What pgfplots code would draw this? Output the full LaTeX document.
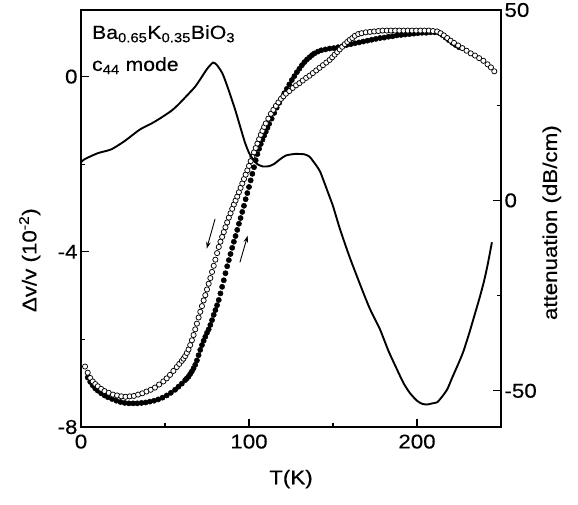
\documentclass[border=0pt]{standalone}
\usepackage{fontspec}
\setmainfont{Liberation Sans}[FakeStretch=1.12, FakeBold=0.4]
\usepackage{pgfplots}
\pgfplotsset{compat=1.18}
\usetikzlibrary{arrows.meta}

\begin{document}
\begin{tikzpicture}
\pgfplotsset{
  every axis/.append style={
    scale only axis, width=420bp, height=417bp,
    at={(0,0)}, anchor=south west,
    xmin=0, xmax=250,
    axis line style={line width=1.6pt},
    tick style={line width=1.3pt, black},
    major tick length=8bp, minor tick length=4.5bp,
    tick align=inside,
    /pgf/number format/assume math mode=true,
    tick label style={font=\fontsize{20}{24}\selectfont},
    label style={font=\fontsize{20}{24}\selectfont},
  },
}
% velocity (left axis)
\begin{axis}[
  name=ax,
  ymin=-8, ymax=1.52,
  xtick={0,100,200}, minor xtick={50,150},
  ytick={-8,-4,0}, minor ytick={-6,-2},
  xtick pos=bottom, ytick pos=left,
  xticklabel style={yshift=-4bp},
  xlabel={T(K)},
  ylabel={Δv/v (10\textsuperscript{-2})},
  xlabel style={at={(axis description cs:0.5,-0.125)}, anchor=center},
  ylabel style={at={(axis description cs:-0.122,0.40)}, anchor=center},
]
% warming, filled
\addplot[only marks, mark=*, mark size=2.6bp, mark options={fill=black, draw=black, line width=0.5pt}] coordinates {
  (4,-6.87) (5.5,-6.97) (7,-7.05) (8.5,-7.12) (10,-7.17) (12,-7.23) (14,-7.28)
  (16,-7.32) (18.5,-7.36) (21,-7.40) (23.5,-7.43) (26,-7.45) (28.5,-7.46)
  (31,-7.46) (33.5,-7.46) (36,-7.45) (38.5,-7.44) (41,-7.42) (43.5,-7.40)
  (46,-7.37) (48.5,-7.33) (51,-7.28) (53.5,-7.22) (56,-7.15) (58,-7.08)
  (60,-7.01) (62,-6.93) (63,-6.89) (64,-6.85) (65,-6.79) (66,-6.73) (67,-6.66)
  (68,-6.58) (69,-6.48) (70,-6.36) (71,-6.24) (72,-6.13) (73,-6.03) (74,-5.94)
  (75,-5.85) (76,-5.77) (77,-5.67) (78,-5.56) (79,-5.44) (80,-5.33) (81,-5.22)
  (82,-5.10) (83,-4.95) (84,-4.80) (85,-4.65) (86,-4.49) (87,-4.33) (88,-4.19)
  (89,-4.05) (90,-3.91) (91,-3.77) (92,-3.64) (93,-3.50) (94,-3.36) (95,-3.23)
  (96,-3.09) (97,-2.95) (98,-2.80) (99,-2.66) (100,-2.52) (101,-2.37)
  (102,-2.22) (103,-2.07) (104,-1.91) (105,-1.77) (106,-1.65) (107,-1.54)
  (108,-1.44) (109,-1.35) (110,-1.26) (111,-1.17) (112,-1.08) (113.5,-0.96)
  (115,-0.83) (116.5,-0.71) (118,-0.60) (119.5,-0.49) (121,-0.38) (122.5,-0.28)
  (124,-0.18) (125.5,-0.08) (127,0.01) (128.5,0.10) (130,0.18) (131.5,0.26)
  (133,0.33) (134.5,0.39) (136,0.44) (137.5,0.49) (139,0.53) (141,0.57)
  (143,0.60) (145.5,0.62) (148,0.64) (150.5,0.65) (153,0.67) (155.5,0.69)
  (158,0.72) (160.5,0.74) (163,0.76) (165.5,0.78) (168,0.80) (170.5,0.82)
  (173,0.84) (175.5,0.86) (178,0.88) (180.5,0.89) (183,0.91) (185.5,0.92)
  (188,0.94) (190.5,0.95) (193,0.96) (195.5,0.97) (198,0.98) (200.5,0.99)
  (203,1.00) (205.5,1.00) (208,1.01) (210.5,1.01) (213,1.00) (215,0.95)
  (217,0.89) (219,0.83) (221,0.77) (223,0.72) (225,0.67)
};
% cooling, open
\addplot[only marks, mark=*, mark size=2.6bp, mark options={fill=white, draw=black, line width=0.75pt}] coordinates {
  (2.4,-6.62) (4,-6.76) (5.5,-6.88) (7,-6.96) (8.5,-7.02) (10,-7.07) (12,-7.13)
  (14,-7.18) (16.5,-7.22) (19,-7.26) (21.5,-7.28) (24,-7.30) (26.5,-7.31)
  (29,-7.30) (31.5,-7.29) (34,-7.26) (36.5,-7.23) (39,-7.19) (41.5,-7.15)
  (44,-7.10) (46.5,-7.03) (49,-6.96) (51,-6.89) (53,-6.81) (55,-6.72)
  (57,-6.63) (58.5,-6.56) (60,-6.49) (61,-6.44) (62,-6.38) (63,-6.31)
  (64,-6.23) (65,-6.13) (66,-6.02) (67,-5.90) (68,-5.77) (69,-5.64) (70,-5.50)
  (71,-5.37) (72,-5.24) (73,-5.11) (74,-4.99) (75,-4.86) (76,-4.73) (77,-4.60)
  (78,-4.46) (79,-4.32) (80,-4.18) (81,-4.03) (82,-3.89) (83,-3.77) (84,-3.66)
  (85,-3.55) (86,-3.44) (87,-3.33) (88,-3.22) (89,-3.12) (90,-3.02) (91,-2.92)
  (92,-2.83) (93,-2.74) (94,-2.64) (95,-2.54) (96,-2.44) (97,-2.34) (98,-2.24)
  (99,-2.14) (100,-2.04) (101,-1.93) (102,-1.83) (103,-1.73) (104,-1.63)
  (105,-1.53) (106,-1.43) (107,-1.33) (108,-1.24) (109,-1.15) (110,-1.07)
  (111.5,-0.96) (113,-0.85) (114.5,-0.76) (116,-0.67) (117.5,-0.59)
  (119,-0.51) (120.5,-0.45) (122,-0.39) (124,-0.33) (126,-0.26) (128,-0.20)
  (130,-0.15) (132,-0.09) (134,-0.03) (136,0.02) (138,0.08) (140,0.14)
  (142,0.20) (144,0.26) (146,0.32) (148,0.38) (149.5,0.44) (151,0.50)
  (152.5,0.56) (154,0.62) (155.5,0.68) (157,0.74) (158.5,0.79) (160,0.84)
  (161.5,0.88) (163,0.93) (165,0.97) (167,0.99) (169.5,1.01) (172,1.02)
  (174.5,1.03) (177,1.04) (179.5,1.05) (182,1.05) (184.5,1.05) (187,1.05)
  (189.5,1.05) (192,1.05) (194.5,1.05) (197,1.05) (199.5,1.05) (202,1.05)
  (204.5,1.05) (207,1.05) (209.5,1.04) (212,1.03) (214,0.99) (216,0.94)
  (218,0.88) (220,0.82) (222,0.77) (224.5,0.71) (227,0.65) (229.5,0.59)
  (232,0.53) (234.5,0.48) (237,0.42) (239.5,0.36) (242,0.28) (244,0.21)
  (246,0.12)
};
\node[anchor=base west, inner sep=0, font=\fontsize{19}{22}\selectfont]
  at (axis cs:6.5,0.86) {Ba\textsubscript{0.65}K\textsubscript{0.35}BiO\textsubscript{3}};
\node[anchor=base west, inner sep=0, font=\fontsize{19}{22}\selectfont]
  at (axis cs:6.5,0.13) {c\textsubscript{44} mode};
\draw[-{Stealth[length=7bp,width=4.5bp]}, line width=0.9pt]
  (axis cs:79.8,-3.25) -- (axis cs:74.8,-3.93);
\draw[-{Stealth[length=7bp,width=4.5bp]}, line width=0.9pt]
  (axis cs:94.6,-4.24) -- (axis cs:99.2,-3.63);
\end{axis}
% attenuation (right axis)
\begin{axis}[
  axis y line*=right, axis x line=none,
  ymin=-59.5, ymax=50,
  ytick={-50,0,50}, minor ytick={-25,25},
  ylabel={attenuation (dB/cm)},
  ylabel style={at={(axis description cs:1.121,0.49)}, anchor=center},
]
\addplot[black, line width=1.9pt, smooth, tension=0.4] coordinates {
  (0,10.0) (2,10.8) (10,12.4) (18,13.4) (26,15.6) (35,18.6) (42,20.2)
  (48,21.8) (54,23.6) (58,25.2) (63,27.5) (68,29.9) (72,32.5) (75,34.5)
  (78.6,36.2) (81,35.5) (84,33.5) (86,31.3) (88,28.8) (91.7,23.9) (95,19.0)
  (97.6,15.2) (100,12.5) (102.4,10.8) (105,9.5) (108.3,8.9) (112,9.0)
  (115,9.6) (118.5,10.8) (122,11.8) (127.4,12.2) (133,12.1) (136,11.5)
  (138,10.4) (140,9.2) (142.3,7.6) (145,4.5) (147,2.1) (150,-1.5)
  (154.2,-7.6) (160,-15.0) (167.3,-23.4) (172,-28.5) (178,-33.9) (183,-39.5)
  (188.1,-44.4) (192,-48.0) (195.8,-50.6) (200,-52.6) (203,-53.4) (206,-53.6)
  (209,-53.3) (212,-53.0) (215,-51.5) (218,-49.6) (221,-46.5) (224,-43.5)
  (227.4,-39.9) (231,-35.0) (234,-30.5) (237.5,-25.2) (240,-21.0) (242,-17.0)
  (244.6,-11.0)
};
\end{axis}
\pgfresetboundingbox
\path ([xshift=-81bp,yshift=-78bp]ax.south west) rectangle ([xshift=77bp,yshift=10bp]ax.north east);
\end{tikzpicture}
\end{document}
